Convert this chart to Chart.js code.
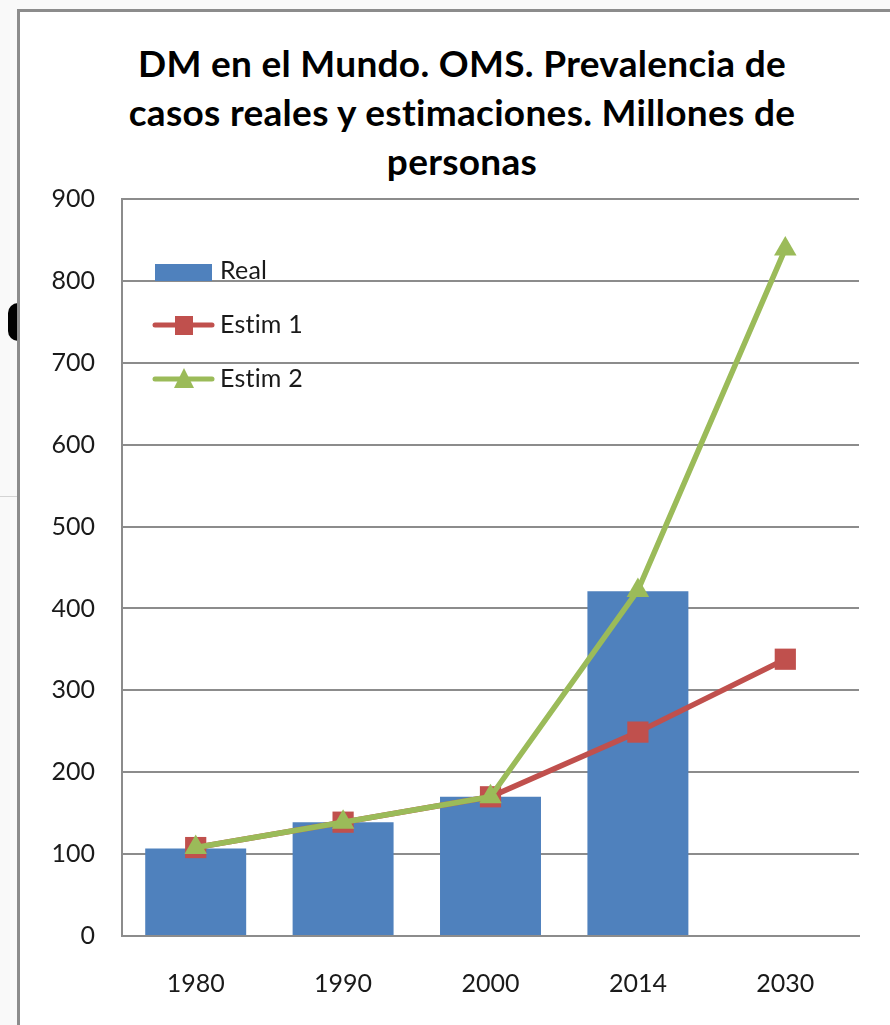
<!DOCTYPE html>
<html lang="es">
<head>
<meta charset="UTF-8">
<title>DM en el Mundo</title>
<script src="https://cdn.jsdelivr.net/npm/chart.js"></script>
<style>
    html, body {
        margin: 0;
        padding: 0;
        width: 890px;
        height: 1025px;
        overflow: hidden;
        background: #f9f9f9;
    }
    .side-line {
        position: absolute;
        left: 0;
        top: 496px;
        width: 18px;
        height: 1px;
        background: #d4d4d4;
    }
    .side-mark {
        position: absolute;
        left: 8px;
        top: 303px;
        width: 20px;
        height: 38px;
        border-radius: 10px 0 0 10px;
        background: #000;
    }
    .panel {
        position: absolute;
        left: 17px;
        top: 9px;
        width: 900px;
        height: 1040px;
        background: #fff;
        border: 3px solid #8c8c8c;
    }
    .chart-title {
        position: absolute;
        left: 0;
        top: 38px;
        width: 924px;
        text-align: center;
        font-family: Lato, "Open Sans", sans-serif;
        font-weight: bold;
        font-size: 37px;
        line-height: 49px;
        letter-spacing: 0.3px;
        font-variant-ligatures: none;
        color: #000;
    }
    .chart-box {
        position: absolute;
        left: 0;
        top: 0;
        width: 890px;
        height: 1025px;
    }
</style>
</head>
<body>
<div class="side-line"></div>
<div class="side-mark"></div>
<div class="panel"></div>
<div class="chart-title">DM en el Mundo. OMS. Prevalencia de<br>casos reales y estimaciones. Millones de<br>personas</div>
<div class="chart-box">
    <canvas id="myChart" width="890" height="1025"></canvas>
</div>

<script>
    const years = ['1980', '1990', '2000', '2014', '2030'];
    const realCases = [107, 139, 170, 421, null];
    const estim1 = [108, 139, 170, 249, 338];
    const estim2 = [108, 139, 170, 422, 839];
    const yTicks = [0, 100, 200, 300, 400, 500, 600, 700, 800, 900];

    const FONT = 'Lato, "Open Sans", sans-serif';
    const TEXT = '#1a1a1a';
    const BLUE = '#4f81bd';
    const RED = '#c0504d';
    const GREEN = '#9bbb59';

    // legend sits inside the plot, top-left
    const insideLegend = {
        id: 'insideLegend',
        afterDraw(chart) {
            const ctx = chart.ctx;
            ctx.save();
            ctx.font = '25px ' + FONT;
            ctx.letterSpacing = '0.2px';
            ctx.textBaseline = 'middle';
            ctx.textAlign = 'left';

            // Real
            ctx.fillStyle = BLUE;
            ctx.fillRect(155, 264, 57, 17);
            ctx.fillStyle = TEXT;
            ctx.fillText('Real', 220, 271);

            // Estim 1
            ctx.strokeStyle = RED;
            ctx.lineWidth = 5;
            ctx.lineCap = 'round';
            ctx.beginPath();
            ctx.moveTo(155, 325);
            ctx.lineTo(212, 325);
            ctx.stroke();
            ctx.fillStyle = RED;
            ctx.fillRect(175, 316, 18, 19);
            ctx.fillStyle = TEXT;
            ctx.fillText('Estim 1', 220, 325);

            // Estim 2
            ctx.strokeStyle = GREEN;
            ctx.beginPath();
            ctx.moveTo(155, 379);
            ctx.lineTo(212, 379);
            ctx.stroke();
            ctx.fillStyle = GREEN;
            ctx.beginPath();
            ctx.moveTo(184, 368);
            ctx.lineTo(194, 388);
            ctx.lineTo(174, 388);
            ctx.closePath();
            ctx.fill();
            ctx.fillStyle = TEXT;
            ctx.fillText('Estim 2', 220, 379);
            ctx.restore();
        }
    };

    const ctx = document.getElementById('myChart').getContext('2d');
    new Chart(ctx, {
        data: {
            labels: years,
            datasets: [
                {
                    type: 'bar',
                    label: 'Real',
                    data: realCases,
                    backgroundColor: BLUE,
                    barPercentage: 0.685,
                    categoryPercentage: 1,
                    order: 3
                },
                {
                    type: 'line',
                    label: 'Estim 1',
                    data: estim1,
                    borderColor: RED,
                    backgroundColor: RED,
                    borderWidth: 5.5,
                    pointStyle: 'rect',
                    pointRadius: 15,
                    pointBorderWidth: 0,
                    tension: 0,
                    order: 2
                },
                {
                    type: 'line',
                    label: 'Estim 2',
                    data: estim2,
                    borderColor: GREEN,
                    backgroundColor: GREEN,
                    borderWidth: 5.5,
                    pointStyle: 'triangle',
                    pointRadius: 13,
                    pointBorderWidth: 0,
                    tension: 0,
                    order: 1
                }
            ]
        },
        options: {
            responsive: false,
            animation: false,
            layout: {
                padding: { left: 18, right: 31, top: 199, bottom: 0 }
            },
            plugins: {
                legend: { display: false },
                tooltip: { enabled: false },
                title: { display: false }
            },
            scales: {
                x: {
                    grid: { display: false, drawTicks: false },
                    border: { display: true, color: '#8c8c8c', width: 2 },
                    ticks: {
                        color: TEXT,
                        font: { family: FONT, size: 25 },
                        padding: 33
                    },
                    afterFit(axis) { axis.height = 89; }
                },
                y: {
                    min: 0,
                    max: 900,
                    afterBuildTicks(axis) {
                        axis.ticks = yTicks.map(v => ({ value: v }));
                    },
                    grid: { color: '#8c8c8c', lineWidth: 2, drawTicks: false },
                    border: { display: true, color: '#8c8c8c', width: 2 },
                    ticks: {
                        color: TEXT,
                        font: { family: FONT, size: 25 },
                        padding: 27
                    },
                    afterFit(axis) { axis.width = 104; }
                }
            }
        },
        plugins: [insideLegend]
    });
</script>
</body>
</html>
